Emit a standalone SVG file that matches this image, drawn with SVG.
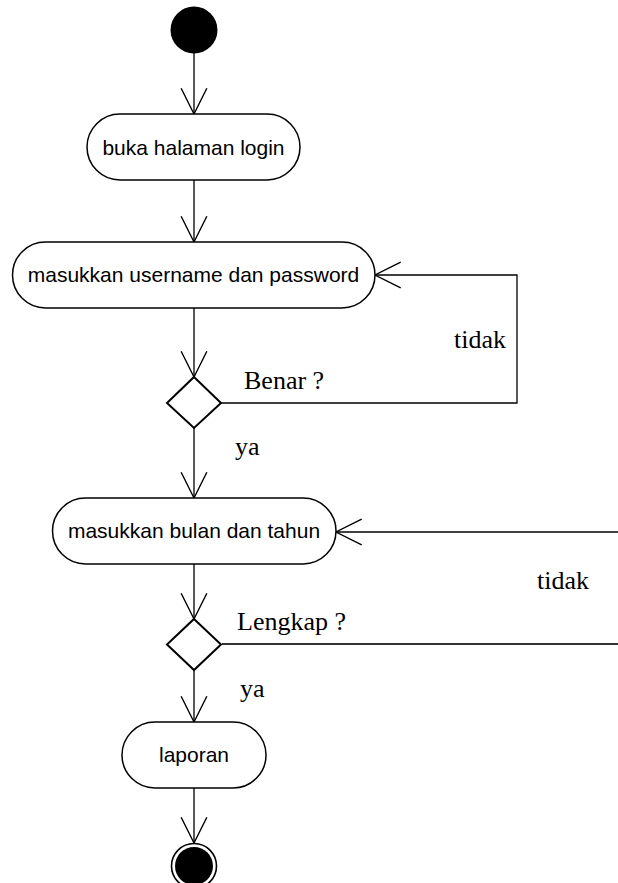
<svg xmlns="http://www.w3.org/2000/svg" width="618" height="883" viewBox="0 0 618 883">
  <style>
    .action { fill: #fff; stroke: #000; stroke-width: 1.5; }
    .decision { fill: #fff; stroke: #000; stroke-width: 2; }
    .flow { fill: none; stroke: #000; stroke-width: 1.3; }
    .label { font-family: "Liberation Sans", Arial, sans-serif; font-size: 21px; fill: #000; text-anchor: middle; }
    .guard { font-family: "Liberation Serif", "Times New Roman", serif; font-size: 26px; fill: #000; }
  </style>
  <defs>
    <marker id="open" markerUnits="userSpaceOnUse" markerWidth="30" markerHeight="30" viewBox="-26 -14 28 28" refX="0" refY="0" orient="auto" overflow="visible">
      <path d="M-24,-12 L0,0 L-24,12" fill="none" stroke="#000" stroke-width="1.3"/>
    </marker>
  </defs>

  <!-- control flows -->
  <g id="connectors">
    <path class="flow" d="M194,53 V114" marker-end="url(#open)"/>
    <path class="flow" d="M194,180 V242" marker-end="url(#open)"/>
    <path class="flow" d="M194,308 V377" marker-end="url(#open)"/>
    <path class="flow" d="M221,403 H517 V275 H375" marker-end="url(#open)"/>
    <path class="flow" d="M194,428 V498" marker-end="url(#open)"/>
    <path class="flow" d="M618,532 H336" marker-end="url(#open)"/>
    <path class="flow" d="M194,564 V619" marker-end="url(#open)"/>
    <path class="flow" d="M222,644 H618" style="stroke:#333;stroke-width:2"/>
    <path class="flow" d="M194,670 V722" marker-end="url(#open)"/>
    <path class="flow" d="M194,788 V843" marker-end="url(#open)"/>
  </g>

  <!-- guard labels -->
  <g id="guards">
    <text class="guard" x="454" y="348">tidak</text>
    <text class="guard" x="244" y="389">Benar ?</text>
    <text class="guard" x="235" y="455">ya</text>
    <text class="guard" x="537" y="589">tidak</text>
    <text class="guard" x="237" y="630">Lengkap ?</text>
    <text class="guard" x="240" y="697">ya</text>
  </g>

  <g id="start">
    <circle cx="194" cy="30" r="23.5" fill="#000"/>
  </g>

  <g id="buka-halaman-login">
    <rect class="action" x="87" y="114" width="213" height="66" rx="33" ry="33"/>
    <text class="label" x="193.5" y="154.5">buka halaman login</text>
  </g>

  <g id="masukkan-username-password">
    <rect class="action" x="12.5" y="242" width="362.5" height="66" rx="33" ry="33"/>
    <text class="label" x="193.5" y="282">masukkan username dan password</text>
  </g>

  <g id="cek-benar">
    <polygon class="decision" points="194,377 221,403 194,428 167,403"/>
  </g>

  <g id="masukkan-bulan-tahun">
    <rect class="action" x="52.5" y="498" width="283.5" height="66" rx="33" ry="33"/>
    <text class="label" x="194" y="538">masukkan bulan dan tahun</text>
  </g>

  <g id="cek-lengkap">
    <polygon class="decision" points="194,619 221,644.5 194,670 167,644.5"/>
  </g>

  <g id="laporan">
    <rect class="action" x="122" y="722" width="144" height="66" rx="33" ry="33"/>
    <text class="label" x="194" y="762">laporan</text>
  </g>

  <g id="end">
    <circle cx="194" cy="866" r="22.5" fill="#fff" stroke="#000" stroke-width="1.6"/>
    <circle cx="194" cy="866" r="19" fill="#000"/>
  </g>
</svg>
